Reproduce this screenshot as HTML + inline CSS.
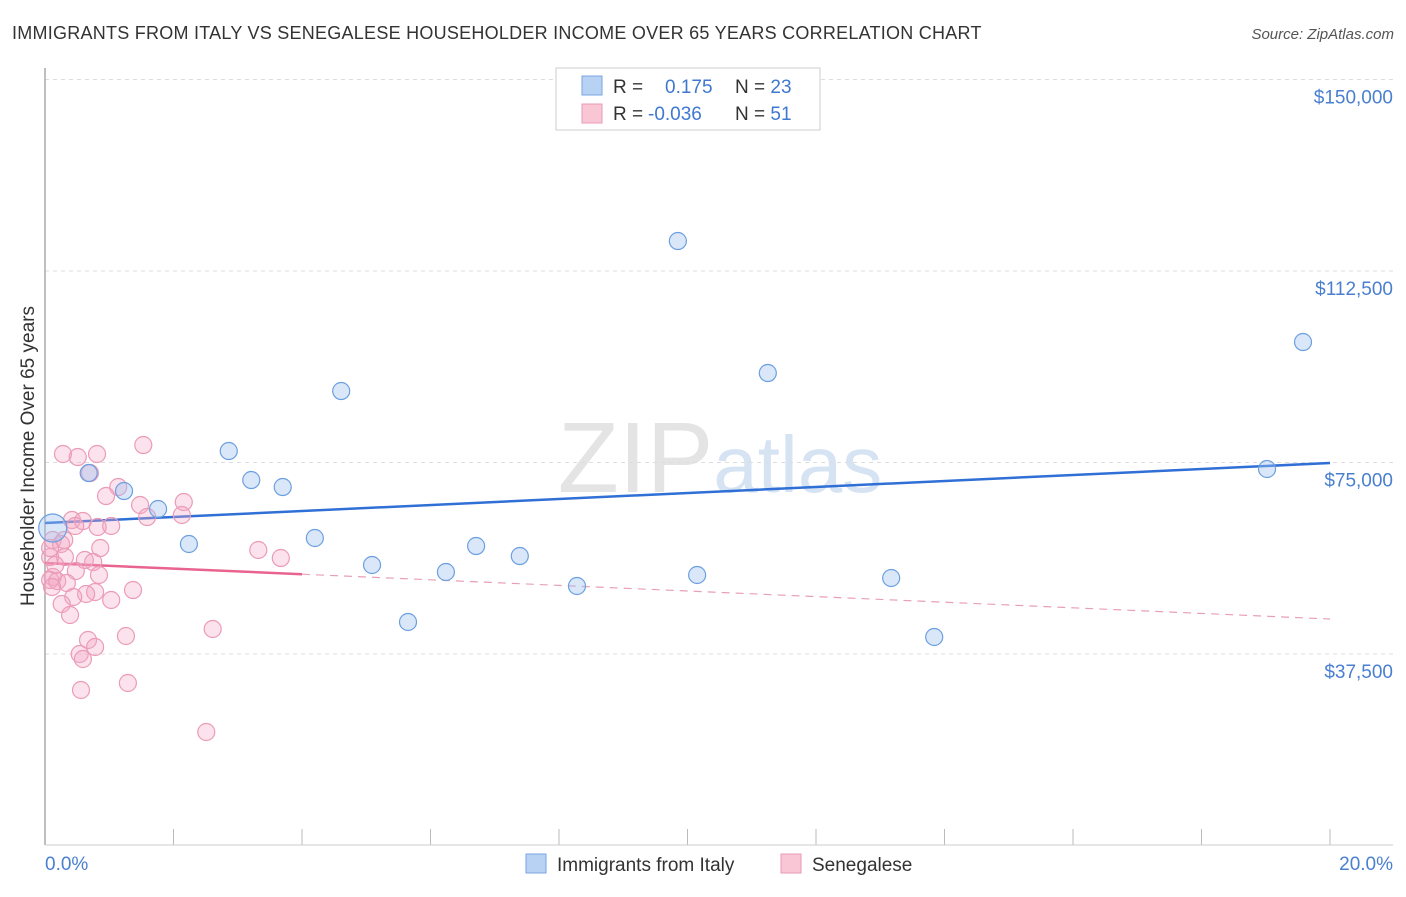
<!DOCTYPE html>
<html><head><meta charset="utf-8"><style>
body{margin:0;background:#fff;font-family:"Liberation Sans",sans-serif}
svg text{font-family:"Liberation Sans",sans-serif}
</style></head><body>
<svg id="chart" width="1406" height="892" xmlns="http://www.w3.org/2000/svg">
<text x="12" y="39" font-size="18" letter-spacing="0.25" fill="#333">IMMIGRANTS FROM ITALY VS SENEGALESE HOUSEHOLDER INCOME OVER 65 YEARS CORRELATION CHART</text>
<text x="1394" y="39" font-size="15" fill="#555" text-anchor="end" font-style="italic">Source: ZipAtlas.com</text>
<text x="720" y="492" font-size="100" text-anchor="middle" fill="#e4e4e4" font-family="Liberation Serif">ZIP<tspan fill="#d6e3f3" font-family="Liberation Sans" font-size="80">atlas</tspan></text>
<g id="grid"></g>
<line x1="45" y1="68" x2="45" y2="845" stroke="#aaa" stroke-width="1.5"/>
<line x1="45" y1="845" x2="1393" y2="845" stroke="#ccc" stroke-width="1"/>
<text transform="translate(34,456) rotate(-90)" font-size="19" fill="#333" text-anchor="middle">Householder Income Over 65 years</text>
<text x="45" y="870" font-size="19" fill="#4a7fd0">0.0%</text>
<text x="1393" y="870" font-size="19" fill="#4a7fd0" text-anchor="end">20.0%</text>
<g id="lines"></g><g id="points"></g>
<g>
<rect x="556" y="68" width="264" height="62" fill="#fff" stroke="#ccc"/>
<rect x="582" y="76" width="20" height="19" fill="#b8d2f3" stroke="#7aa6e0"/>
<rect x="582" y="104" width="20" height="19" fill="#f8c6d5" stroke="#ea9ab4"/>
<text x="613" y="93" font-size="19" fill="#333">R = <tspan fill="#3f78d0" x="665">0.175</tspan><tspan x="735" fill="#333">N = </tspan><tspan fill="#3f78d0">23</tspan></text>
<text x="613" y="120" font-size="19" fill="#333">R = <tspan fill="#3f78d0" x="648">-0.036</tspan><tspan x="735" fill="#333">N = </tspan><tspan fill="#3f78d0"> 51</tspan></text>
</g>
<g><rect x="526" y="854" width="20" height="19" fill="#b8d2f3" stroke="#7aa6e0"/><text x="557" y="871" font-size="19" fill="#333">Immigrants from Italy</text></g>
<g><rect x="781" y="854" width="20" height="19" fill="#f8c6d5" stroke="#ea9ab4"/><text x="812" y="871" font-size="19" fill="#333">Senegalese</text></g>
</svg>
<script>
const yTicks=[37500,75000,112500,150000];
const yTickLabels=["$37,500","$75,000","$112,500","$150,000"];
const xTicks=[0,2,4,6,8,10,12,14,16,18,20];
const italyX=[0.12,0.68,1.23,1.76,2.24,2.86,3.21,3.70,4.20,4.61,5.09,5.65,6.24,6.71,7.39,8.28,9.85,10.15,11.25,13.17,13.84,19.02,19.58];
const italyY=[62172,72942,69417,65894,59040,77251,71572,70201,60215,89000,54928,43766,53557,58648,56690,50816,118374,52970,92525,52382,40829,73727,98595];
const senX=[1.53,0.28,0.51,0.81,0.70,1.14,0.95,1.48,2.16,2.13,1.59,0.42,0.59,0.47,0.82,1.03,0.12,0.25,3.32,3.67,0.31,0.08,0.62,0.75,0.48,0.84,0.12,0.08,0.19,0.34,1.37,0.78,0.64,0.44,1.03,0.26,0.39,2.61,1.26,0.67,0.78,0.54,0.59,1.29,0.56,2.51,0.08,0.16,0.30,0.11,0.86];
const senY=[78426,76664,76076,76664,72942,70201,68439,66677,67264,64719,64327,63739,63543,62565,62369,62565,59823,59040,57865,56298,56494,56494,55907,55515,53753,52970,52578,51990,51795,51403,50032,49641,49249,48662,48074,47291,45137,42396,41025,40241,38871,37500,36521,31821,30450,22226,58256,54928,59823,50620,58256];
const italyTrend=[63150,74900];
const senTrend=[55319,44353];
const NS="http://www.w3.org/2000/svg";
const xs=v=>45+v/20*1285;
const ys=v=>845.5-v/37500*191.5;
function mk(t,a,p){const e=document.createElementNS(NS,t);for(const k in a)e.setAttribute(k,a[k]);p.appendChild(e);return e;}
const grid=document.getElementById('grid');
yTicks.forEach((t,i)=>{
 const l=mk('line',{x1:45,x2:1393,y1:ys(t),y2:ys(t),stroke:'#ddd','stroke-dasharray':'4,4'},grid);
 
 
 const tx=mk('text',{x:1393,y:ys(t)+24,'font-size':19,fill:'#4a7fd0','text-anchor':'end'},grid);
 tx.textContent=yTickLabels[i];
 
 
});
xTicks.forEach(t=>{
 const l=mk('line',{x1:xs(t),x2:xs(t),y1:829,y2:845,stroke:'#bbb'},grid);
 
 
});
const lines=document.getElementById('lines');
const tb=mk('line',{x1:xs(0),y1:ys(italyTrend[0]),x2:xs(20),y2:ys(italyTrend[1]),stroke:'#2f6fd6','stroke-width':2.5},lines);


const ps=senTrend[0]+(senTrend[1]-senTrend[0])*0.2;
const tp=mk('line',{x1:xs(0),y1:ys(senTrend[0]),x2:xs(4),y2:ys(ps),stroke:'#e8638e','stroke-width':2.5},lines);


const td=mk('line',{x1:xs(4),y1:ys(ps),x2:xs(20),y2:ys(senTrend[1]),stroke:'#e8a0b8','stroke-width':1.2,'stroke-dasharray':'8,6'},lines);


const pts=document.getElementById('points');
senX.forEach((x,i)=>{
 const c=mk('circle',{cx:xs(x),cy:ys(senY[i]),r:8.5,fill:'rgba(244,168,196,0.33)',stroke:'#eb9bb6','stroke-width':1.2},pts);
 
 
});
italyX.forEach((x,i)=>{
 const c=mk('circle',{cx:xs(x),cy:ys(italyY[i]),r:i==0?14:8.5,fill:'rgba(160,196,240,0.4)',stroke:'#6c9fe0','stroke-width':1.2},pts);
 
 
});
</script>
</body></html>
